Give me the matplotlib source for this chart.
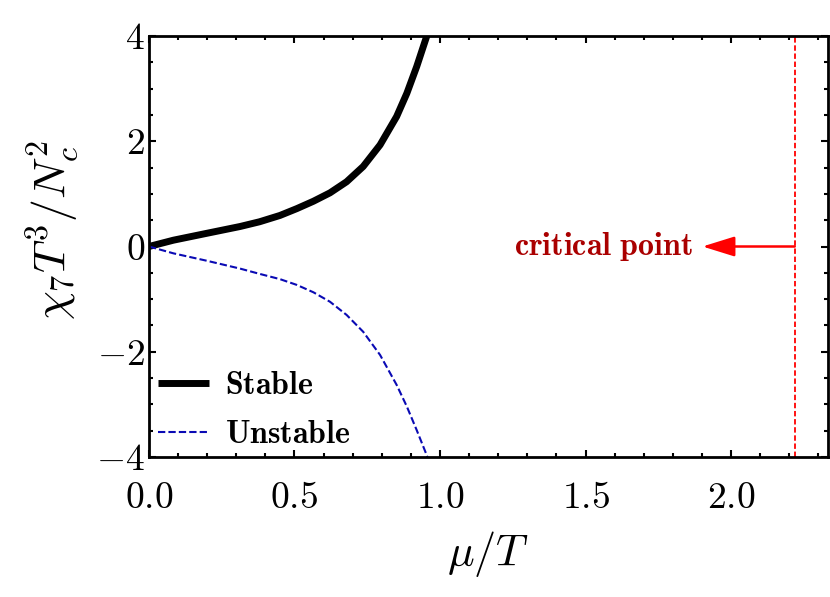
import numpy as np
import matplotlib
matplotlib.use('Agg')
import matplotlib.pyplot as plt
from matplotlib.ticker import MultipleLocator

plt.rcParams['mathtext.fontset'] = 'cm'
plt.rcParams['font.family'] = 'serif'
plt.rcParams['font.serif'] = ['cmr10', 'DejaVu Serif']

# Dane
mu_stable = [0.0, 0.084, 0.198, 0.313, 0.38, 0.45, 0.508, 0.565, 0.622, 0.679,
             0.736, 0.794, 0.851, 0.886, 0.92, 0.954, 0.962]
chi_stable = [0.0, 0.12, 0.25, 0.38, 0.47, 0.59, 0.72, 0.86, 1.02, 1.23,
              1.52, 1.93, 2.47, 2.91, 3.42, 3.99, 4.12]

mu_unstable = [0.0, 0.084, 0.198, 0.313, 0.38, 0.45, 0.508, 0.565, 0.622, 0.679,
               0.736, 0.794, 0.851, 0.886, 0.92, 0.954, 0.962]
chi_unstable = [0.0, -0.13, -0.27, -0.42, -0.52, -0.62, -0.73, -0.87, -1.05, -1.30,
                -1.62, -2.06, -2.63, -3.04, -3.49, -3.96, -4.08]

mu_critical = 2.219
x_ticks = [0.0, 0.5, 1.0, 1.5, 2.0]
x_labels = ['$0.0$', '$0.5$', '$1.0$', '$1.5$', '$2.0$']
y_ticks = [-4, -2, 0, 2, 4]
y_labels = ['$-4$', '$-2$', '$0$', '$2$', '$4$']

fig = plt.figure(figsize=(8.3, 5.97), dpi=100)
ax = fig.add_axes([0.1795, 0.2345, 0.818, 0.7052])

ax.plot(mu_stable, chi_stable, color='black', lw=5, solid_capstyle='butt',
        solid_joinstyle='round', label=r'$\mathbf{Stable}$')
ax.plot(mu_unstable, chi_unstable, color='#0a0ab4', lw=1.5, ls=(0, (3.5, 1.5)),
        label=r'$\mathbf{Unstable}$')
ax.axvline(mu_critical, color='red', lw=1.3, ls=(0, (3, 1.5)))
ax.annotate('', xy=(1.902, 0.0), xytext=(mu_critical, 0.0),
            arrowprops=dict(arrowstyle='-|>,head_length=0.9,head_width=0.28',
                            color='red', lw=1.8, mutation_scale=22,
                            shrinkA=0, shrinkB=0))
ax.text(1.87, 0.0, r'$\mathbf{critical\ point}$', color='#aa0000',
        fontsize=23, ha='right', va='center')

ax.set_xlim(0, 2.333)
ax.set_ylim(-4, 4)
ax.set_xticks(x_ticks)
ax.set_xticklabels(x_labels)
ax.set_yticks(y_ticks)
ax.set_yticklabels(y_labels)
ax.xaxis.set_minor_locator(MultipleLocator(0.1))
ax.yaxis.set_minor_locator(MultipleLocator(0.5))
ax.tick_params(which='both', direction='in', top=True, right=True, labelsize=27, width=1.5)
ax.tick_params(which='major', length=5)
ax.tick_params(which='minor', length=3)
ax.tick_params(axis='x', which='major', pad=18)
ax.tick_params(axis='y', which='major', pad=3)
for s in ax.spines.values():
    s.set_linewidth(2)

ax.set_xlabel(r'$\mu/T$', fontsize=32, labelpad=10)
ax.set_ylabel(r'$\chi_7T^3/N_c^2$', fontsize=33)
ax.yaxis.set_label_coords(-0.1, 0.54)

ax.legend(loc='lower left', frameon=False, fontsize=23, handlelength=1.6,
          handletextpad=0.5, labelspacing=0.65, borderaxespad=0.3,
          bbox_to_anchor=(-0.02, -0.035))

fig.savefig('out.png', dpi=100)
